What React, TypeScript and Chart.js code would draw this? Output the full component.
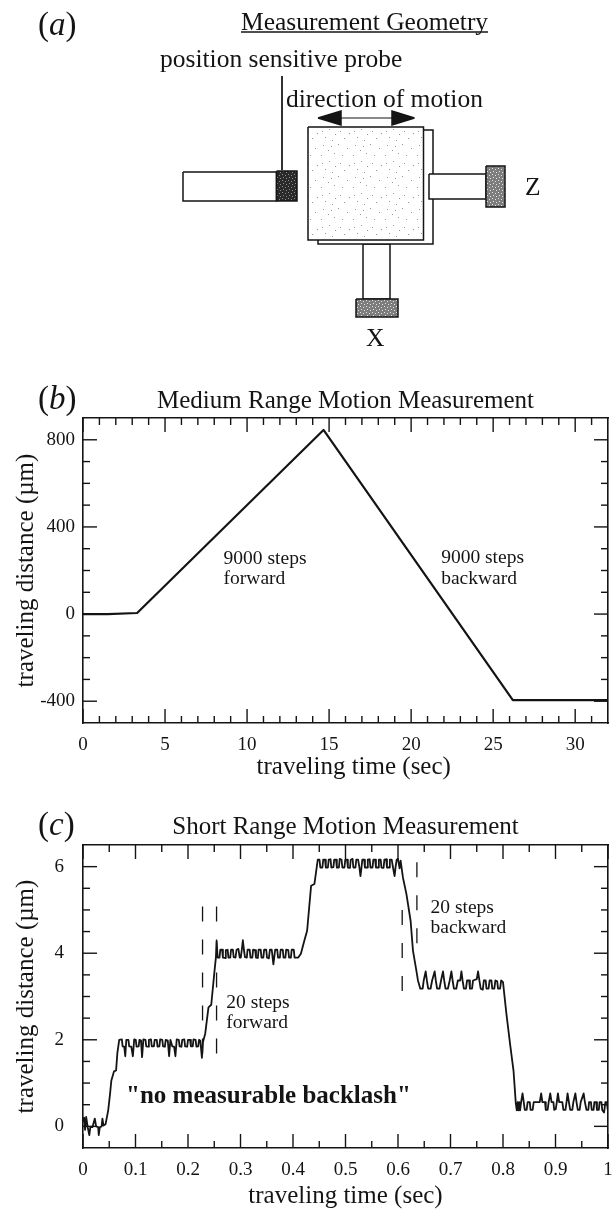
import React, { useEffect, useRef } from "react";
import { Chart, registerables } from "chart.js";

Chart.register(...registerables);

const SERIF = '"Liberation Serif", "Times New Roman", serif';
const INK = "#141414";

// ---------- Panel (b) ----------
const bMajorX = [0, 5, 10, 15, 20, 25, 30];
const bMinorX = [1, 2, 3, 4, 6, 7, 8, 9, 11, 12, 13, 14, 16, 17, 18, 19, 21, 22, 23, 24, 26, 27, 28, 29, 31];
const bMajorY = [-400, 0, 400, 800];
const bMinorY = [-300, -200, -100, 100, 200, 300, 500, 600, 700];
const bTrace = [
  [0, 0], [1.5, 0], [3.3, 5], [14.66, 845], [26.2, -395], [32, -395],
];
const bNotes = [
  { text: "9000 steps", x: 8.57, y: 253 },
  { text: "forward", x: 8.57, y: 161 },
  { text: "9000 steps", x: 21.83, y: 257 },
  { text: "backward", x: 21.83, y: 161 },
];

// ---------- Panel (c) ----------
const cMajorX = [0, 0.1, 0.2, 0.3, 0.4, 0.5, 0.6, 0.7, 0.8, 0.9, 1];
const cMinorX = [0.05, 0.15, 0.25, 0.35, 0.45, 0.55, 0.65, 0.75, 0.85, 0.95];
const cMajorY = [0, 2, 4, 6];
const cMinorY = [1, 3, 5, 0.5, 1.5, 2.5, 3.5, 4.5, 5.5];
const cStart = [
  [0, 0.1], [0.002, 0.2], [0.004, -0.08], [0.006, 0.22], [0.009, -0.02], [0.012, -0.2], [0.014, -0.02], [0.018, -0.02],
  [0.0225, 0.18], [0.025, 0], [0.029, -0.02], [0.03, -0.2], [0.032, -0.02], [0.0355, 0], [0.037, 0.18], [0.039, 0.02],
];
const cRise1 = [[0.043, 0.05], [0.048, 0.37], [0.0515, 0.75], [0.054, 1.06], [0.059, 1.27], [0.063, 1.29], [0.0655, 1.7]];
const cLevel2 = [
  [0.069, 2.0], [0.074, 2.01], [0.0755, 1.85], [0.0785, 1.84], [0.0805, 1.62], [0.0825, 2.0], [0.0865, 2.0], [0.088, 1.85],
  [0.092, 1.84], [0.095, 1.62], [0.0975, 2.01], [0.1005, 2.0], [0.102, 1.84], [0.106, 1.85], [0.1075, 2.0], [0.1105, 1.98],
  [0.1125, 1.6], [0.115, 2.01], [0.119, 2.0], [0.1205, 1.85], [0.124, 1.84], [0.1255, 2.0], [0.1295, 2.01], [0.131, 1.85],
  [0.135, 1.85], [0.1365, 2.0], [0.1405, 2.0], [0.142, 1.84], [0.1455, 1.85], [0.147, 2.01], [0.151, 2.0], [0.1525, 1.85],
  [0.156, 1.84], [0.1575, 2.0], [0.1615, 1.98], [0.164, 1.62], [0.1665, 2.0], [0.17, 1.85], [0.1735, 1.84], [0.176, 1.62],
  [0.1785, 2.01], [0.1825, 2.0], [0.184, 1.85], [0.1875, 1.84], [0.189, 2.0], [0.193, 2.01], [0.1945, 1.85], [0.1985, 1.84],
  [0.2, 2.0], [0.204, 2.0], [0.2055, 1.85], [0.209, 1.85], [0.2105, 2.01], [0.2145, 2.0], [0.216, 1.84], [0.2195, 1.85],
  [0.221, 2.0], [0.2235, 1.98], [0.2265, 1.58], [0.2285, 1.95],
];
const cRise2 = [[0.2328, 2.14], [0.239, 2.75], [0.2443, 2.81], [0.25, 3.53], [0.2532, 3.91], [0.2545, 4.28]];
const cLevel4 = [
  [0.2565, 3.9], [0.26, 3.9], [0.2615, 4.08], [0.265, 4.08], [0.2665, 3.9], [0.2705, 3.89], [0.272, 4.07], [0.2755, 4.08],
  [0.277, 3.9], [0.2805, 3.9], [0.282, 4.08], [0.2855, 4.08], [0.287, 3.91], [0.2905, 3.9], [0.2925, 4.08], [0.296, 4.1],
  [0.2985, 3.9], [0.3005, 3.9], [0.3025, 4.08], [0.3045, 4.3], [0.3065, 4.08], [0.3085, 3.91], [0.312, 3.9], [0.3135, 4.08],
  [0.3175, 4.08], [0.319, 3.9], [0.3225, 3.9], [0.324, 4.08], [0.328, 4.07], [0.3295, 3.9], [0.333, 3.89], [0.3345, 4.08],
  [0.3385, 4.08], [0.34, 3.9], [0.3435, 3.9], [0.345, 4.08], [0.349, 4.08], [0.3505, 3.9], [0.354, 3.88], [0.356, 4.08],
  [0.3595, 4.08], [0.3612, 3.9], [0.3626, 3.74], [0.3642, 3.9], [0.366, 4.08], [0.37, 4.08], [0.3715, 3.9], [0.375, 3.9],
  [0.3765, 4.08], [0.3805, 4.08], [0.382, 3.9], [0.3855, 3.9], [0.387, 4.08], [0.391, 4.07], [0.3925, 3.9], [0.396, 3.9],
  [0.3975, 4.08], [0.4015, 4.08], [0.403, 3.9], [0.41, 3.9],
];
const cRise3 = [[0.415, 3.99], [0.4218, 4.3], [0.4269, 4.52], [0.4345, 5.56], [0.4408, 5.6]];
const cLevel6 = [
  [0.4472, 6.16], [0.4505, 6.16], [0.452, 5.98], [0.456, 5.98], [0.4575, 6.16], [0.461, 6.16], [0.4625, 5.98], [0.4665, 5.98],
  [0.468, 6.16], [0.4715, 6.17], [0.473, 5.98], [0.477, 5.99], [0.4785, 6.16], [0.482, 6.16], [0.4835, 5.98], [0.4875, 5.98],
  [0.489, 6.18], [0.4925, 6.16], [0.494, 5.98], [0.498, 5.98], [0.4995, 6.16], [0.503, 6.16], [0.5045, 5.98], [0.5085, 5.97],
  [0.51, 6.16], [0.5135, 6.18], [0.515, 5.98], [0.519, 5.98], [0.5205, 6.16], [0.524, 6.16], [0.5265, 5.98], [0.5285, 5.78],
  [0.5305, 5.98], [0.532, 6.16], [0.5355, 6.16], [0.537, 5.98], [0.541, 5.98], [0.5425, 6.16], [0.546, 6.17], [0.5475, 5.98],
  [0.5515, 5.98], [0.553, 6.16], [0.5565, 6.16], [0.558, 5.98], [0.562, 5.98], [0.5635, 6.16], [0.567, 6.16], [0.5685, 5.98],
  [0.5725, 5.97], [0.574, 6.16], [0.5775, 6.17], [0.579, 5.98], [0.583, 5.98], [0.5845, 6.16], [0.588, 6.16], [0.5905, 5.98],
  [0.5935, 5.78], [0.5955, 6.0], [0.5975, 6.16], [0.6, 6.18], [0.603, 5.96], [0.605, 6.14],
];
const cFall1 = [[0.6094, 5.75], [0.616, 5.37], [0.624, 4.75], [0.6285, 4.06], [0.635, 3.6], [0.638, 3.37]];
const cLevel3 = [
  [0.6425, 3.18], [0.647, 3.18], [0.649, 3.37], [0.6527, 3.58], [0.655, 3.37], [0.6575, 3.18], [0.662, 3.18], [0.665, 3.37],
  [0.6698, 3.58], [0.672, 3.37], [0.6745, 3.18], [0.679, 3.18], [0.682, 3.37], [0.6857, 3.58], [0.688, 3.37], [0.6905, 3.18],
  [0.695, 3.18], [0.6985, 3.37], [0.7017, 3.58], [0.704, 3.37], [0.7065, 3.18], [0.711, 3.18], [0.714, 3.37], [0.7185, 3.37],
  [0.7208, 3.58], [0.723, 3.37], [0.7255, 3.18], [0.7295, 3.18], [0.7315, 3.37], [0.7355, 3.37], [0.737, 3.18], [0.741, 3.18],
  [0.743, 3.37], [0.75, 3.4], [0.7525, 3.58], [0.755, 3.37], [0.7575, 3.18], [0.7615, 3.16], [0.7635, 3.37], [0.767, 3.37],
  [0.7685, 3.18], [0.7725, 3.18], [0.7745, 3.37], [0.778, 3.37], [0.7795, 3.18], [0.7835, 3.18], [0.7855, 3.37], [0.789, 3.35],
  [0.7905, 3.18], [0.7945, 3.18], [0.7965, 3.37],
];
const cFall2 = [[0.8, 3.33], [0.8065, 2.6], [0.8135, 1.9], [0.82, 1.29], [0.8244, 0.53]];
const cLevel05 = [
  [0.8263, 0.37], [0.828, 0.56], [0.8295, 0.37], [0.831, 0.56], [0.8325, 0.37], [0.8345, 0.56], [0.8372, 0.76], [0.8395, 0.56],
  [0.8415, 0.38], [0.845, 0.38], [0.847, 0.56], [0.851, 0.56], [0.8525, 0.38], [0.8565, 0.38], [0.8585, 0.56], [0.87, 0.56],
  [0.8727, 0.76], [0.875, 0.56], [0.88, 0.56], [0.8815, 0.38], [0.885, 0.38], [0.887, 0.56], [0.89, 0.76], [0.8925, 0.56],
  [0.896, 0.56], [0.8975, 0.38], [0.9005, 0.4], [0.9025, 0.56], [0.9046, 0.76], [0.907, 0.56], [0.913, 0.56], [0.915, 0.38],
  [0.919, 0.38], [0.921, 0.56], [0.923, 0.76], [0.9255, 0.56], [0.928, 0.38], [0.932, 0.38], [0.934, 0.56], [0.9378, 0.76],
  [0.94, 0.56], [0.9425, 0.38], [0.946, 0.38], [0.948, 0.56], [0.9536, 0.76], [0.956, 0.56], [0.959, 0.38], [0.9625, 0.38],
  [0.964, 0.56], [0.9675, 0.56], [0.969, 0.38], [0.9725, 0.38], [0.974, 0.56], [0.9775, 0.56], [0.979, 0.38], [0.9825, 0.38],
  [0.984, 0.56], [0.9875, 0.56], [0.989, 0.38], [0.9925, 0.32], [0.995, 0.56], [0.998, 0.56], [0.9995, 0.38], [1, 0.5],
];
const cGuides = [
  [[0.2277, 5.08], [0.2277, 1.68]],
  [[0.2544, 5.08], [0.2544, 1.68]],
  [[0.608, 5.0], [0.608, 2.98]],
  [[0.636, 6.1], [0.636, 4.22]],
];
const cNotes = [
  { text: "20 steps", x: 0.273, y: 2.86 },
  { text: "forward", x: 0.273, y: 2.4 },
  { text: "20 steps", x: 0.662, y: 5.05 },
  { text: "backward", x: 0.662, y: 4.59 },
];
const cBoldNote = { text: '"no measurable backlash"', x: 0.082, y: 0.7 };

// ---------- Panel (a) schematic, in a 612-wide drawing space ----------
const backPlate = [[318, 130], [433, 130], [433, 244], [318, 244], [318, 130]];
const mainSquare = [[308, 127], [423.5, 127], [423.5, 240], [308, 240], [308, 127]];
const denseRegion = [[322, 150], [412, 150], [412, 200], [322, 200], [322, 150]];
const probeBody = [[183, 172], [276.5, 172], [276.5, 201], [183, 201], [183, 172]];
const probeTip = [[276.5, 171], [297, 171], [297, 201], [276.5, 201], [276.5, 171]];
const zArm = [[429, 174], [486, 174], [486, 199], [429, 199], [429, 174]];
const zTip = [[486, 166], [505, 166], [505, 207], [486, 207], [486, 166]];
const xArm = [[363, 244], [390, 244], [390, 299], [363, 299], [363, 244]];
const xTip = [[356, 299], [398, 299], [398, 317], [356, 317], [356, 299]];
const leader = [[282, 76], [282, 170]];
const shaft = [[341, 118], [392, 118]];
const leftHead = [[318, 118], [341, 111], [341, 125], [318, 118]];
const rightHead = [[414.5, 118], [392, 111], [392, 125], [414.5, 118]];
const titleRule = [[241, 32], [488, 32]];
const schematicLabels = [
  { text: "Measurement Geometry", x: 241, y: 23, size: 25.5 },
  { text: "position sensitive probe", x: 160, y: 60, size: 25.5 },
  { text: "direction of motion", x: 286, y: 100, size: 25.5 },
  { text: "Z", x: 525, y: 188, size: 25.5 },
  { text: "X", x: 366, y: 339, size: 25.5 },
];
const speckleDots = [
  [2, 3], [9, 1], [15, 6], [5, 9], [12, 12], [20, 3], [24, 10], [18, 16], [3, 17], [27, 20],
  [8, 22], [14, 25], [22, 27], [1, 27], [29, 5], [11, 18],
];
const tipDots = [[0, 0], [3, 1], [1, 3], [4, 4]];

const toPoints = (pairs: number[][]) => pairs.map(([x, y]) => ({ x, y }));

const tile = (size: number, bg: string, dot: string, dots: number[][]) => {
  const c = document.createElement("canvas");
  c.width = size;
  c.height = size;
  const g = c.getContext("2d")!;
  if (bg) {
    g.fillStyle = bg;
    g.fillRect(0, 0, size, size);
  }
  g.fillStyle = dot;
  dots.forEach(([x, y]) => g.fillRect(x, y, 1, 1));
  return g.createPattern(c, "repeat")!;
};

const drawPanelLabel = (ctx: CanvasRenderingContext2D, letter: string, x: number, y: number) => {
  ctx.save();
  ctx.fillStyle = INK;
  ctx.textAlign = "left";
  ctx.textBaseline = "middle";
  ctx.font = `33px ${SERIF}`;
  ctx.fillText("(", x, y);
  let cx = x + ctx.measureText("(").width;
  ctx.font = `italic 33px ${SERIF}`;
  ctx.fillText(letter, cx, y);
  cx += ctx.measureText(letter).width;
  ctx.font = `33px ${SERIF}`;
  ctx.fillText(")", cx, y);
  ctx.restore();
};

type PlotSpec = {
  letter: string;
  labelY: number;
  title: string;
  xTitleCentre?: number;
  xMin: number; xMax: number; yMin: number; yMax: number;
  xMajor: number[]; xMinor: number[]; yMajor: number[]; yMinor: number[];
  plot: { top: number; bottom: number; left: number; right: number; width: number; height: number };
  yPad: number; xPad: number;
  xTitlePad: number; yTitlePad: number; topTitlePad: number;
  notes: { text: string; x: number; y: number }[];
  bold?: { text: string; x: number; y: number };
  datasets: any[];
};

const X_TITLE = "traveling time (sec)";

const makePlot = (canvas: HTMLCanvasElement, s: PlotSpec) => {
  const fixed = (values: number[]) => (scale: any) => {
    scale.ticks = values.map((value) => ({ value }));
  };
  const xTicks = [...s.xMajor, ...s.xMinor].sort((a, b) => a - b);
  const yTicks = [...s.yMajor, ...s.yMinor].sort((a, b) => a - b);
  const border = { display: true, color: INK, width: 1.6 };
  const grid = { display: false, drawTicks: false };
  const tickFont = { family: SERIF, size: 19 };
  const titleFont = { family: SERIF, size: 25 };
  const hSize = (h: number) => (scale: any) => {
    scale.height = h;
    scale.paddingLeft = 0;
    scale.paddingRight = 0;
  };
  const vSize = (w: number) => (scale: any) => {
    scale.width = w;
    scale.paddingTop = 0;
    scale.paddingBottom = 0;
  };
  const inwardTicks = {
    id: "inwardTicks",
    afterDatasetsDraw(chart: any) {
      const { ctx, chartArea: a, scales } = chart;
      ctx.save();
      ctx.strokeStyle = INK;
      ctx.lineWidth = 1.4;
      const seg = (x1: number, y1: number, x2: number, y2: number) => {
        ctx.beginPath();
        ctx.moveTo(x1, y1);
        ctx.lineTo(x2, y2);
        ctx.stroke();
      };
      xTicks.forEach((v) => {
        const len = s.xMajor.includes(v) ? 14 : 7;
        const px = scales.x.getPixelForValue(v);
        seg(px, a.bottom, px, a.bottom - len);
        seg(px, a.top, px, a.top + len);
      });
      yTicks.forEach((v) => {
        const len = s.yMajor.includes(v) ? 14 : 7;
        const py = scales.y.getPixelForValue(v);
        seg(a.left, py, a.left + len, py);
        seg(a.right, py, a.right - len, py);
      });
      ctx.restore();
    },
    afterDraw(chart: any) {
      const { ctx, scales, chartArea } = chart;
      drawPanelLabel(ctx, s.letter, 38, s.labelY);
      ctx.save();
      ctx.fillStyle = INK;
      ctx.textAlign = "left";
      ctx.textBaseline = "middle";
      ctx.font = `19.5px ${SERIF}`;
      s.notes.forEach((n) => ctx.fillText(n.text, scales.x.getPixelForValue(n.x), scales.y.getPixelForValue(n.y)));
      if (s.bold) {
        ctx.font = `bold 25px ${SERIF}`;
        ctx.fillText(s.bold.text, scales.x.getPixelForValue(s.bold.x), scales.y.getPixelForValue(s.bold.y));
      }
      if (s.xTitleCentre !== undefined) {
        ctx.font = `25px ${SERIF}`;
        ctx.textAlign = "center";
        ctx.fillText(X_TITLE, scales.x.getPixelForValue(s.xTitleCentre), chartArea.bottom + 44);
      }
      ctx.restore();
    },
  };
  return new Chart(canvas, {
    type: "line",
    data: { datasets: s.datasets },
    plugins: [inwardTicks],
    options: {
      animation: false,
      responsive: false,
      layout: { padding: 0 },
      plugins: { legend: { display: false }, tooltip: { enabled: false }, title: { display: false } },
      scales: {
        x: {
          type: "linear", position: "bottom", min: s.xMin, max: s.xMax,
          grid, border,
          afterBuildTicks: fixed(xTicks),
          afterFit: hSize(s.plot.height - s.plot.bottom),
          ticks: {
            autoSkip: false, maxRotation: 0, minRotation: 0, padding: s.xPad, color: INK, font: tickFont,
            callback: (v: any) => (s.xMajor.includes(v) ? String(v) : ""),
          },
          title: {
            display: s.xTitleCentre === undefined, text: X_TITLE, color: INK, font: titleFont,
            padding: { top: 0, bottom: s.xTitlePad },
          },
        },
        x2: {
          type: "linear", position: "top", min: s.xMin, max: s.xMax,
          grid, border,
          afterBuildTicks: fixed(xTicks),
          afterFit: hSize(s.plot.top),
          ticks: { display: false, autoSkip: false },
          title: { display: true, text: s.title, color: INK, font: titleFont, padding: { top: s.topTitlePad, bottom: 0 } },
        },
        y: {
          type: "linear", position: "left", min: s.yMin, max: s.yMax,
          grid, border,
          afterBuildTicks: fixed(yTicks),
          afterFit: vSize(s.plot.left),
          ticks: {
            autoSkip: false, padding: s.yPad, color: INK, font: tickFont,
            callback: (v: any) => (s.yMajor.includes(v) ? String(v) : ""),
          },
          title: { display: true, text: "traveling distance (µm)", color: INK, font: titleFont, padding: { top: s.yTitlePad, bottom: 0 } },
        },
        y2: {
          type: "linear", position: "right", min: s.yMin, max: s.yMax,
          grid, border,
          afterBuildTicks: fixed(yTicks),
          afterFit: vSize(s.plot.width - s.plot.right),
          ticks: { display: false, autoSkip: false },
        },
      },
    } as any,
  });
};

const traceStyle = {
  borderColor: INK, pointRadius: 0, tension: 0, fill: false, xAxisID: "x", yAxisID: "y", borderJoinStyle: "round",
};

export default function App() {
  const aRef = useRef<HTMLCanvasElement>(null);
  const bRef = useRef<HTMLCanvasElement>(null);
  const cRef = useRef<HTMLCanvasElement>(null);

  useEffect(() => {
    const speckle = tile(32, "#ffffff", "#999999", speckleDots);
    const dark = tile(6, "#2a2a2a", "#8f8f8f", tipDots);
    const medium = tile(6, "#7d7d7d", "#e6e6e6", tipDots);
    const outlined = (pts: number[][], bg: any) => ({
      data: toPoints(pts), borderColor: INK, borderWidth: 1.5, backgroundColor: bg,
      fill: "shape", pointRadius: 0, tension: 0,
    });
    const stroke = (pts: number[][], width: number) => ({
      data: toPoints(pts), borderColor: INK, borderWidth: width, fill: false, pointRadius: 0, tension: 0,
    });
    const a = new Chart(aRef.current!, {
      type: "line",
      data: {
        datasets: [
          outlined(rightHead, INK),
          outlined(leftHead, INK),
          stroke(shaft, 1.2),
          stroke(leader, 1),
          stroke(titleRule, 1.4),
          { ...outlined(denseRegion, speckle), borderWidth: 0, borderColor: "transparent" },
          outlined(mainSquare, speckle),
          outlined(zTip, medium),
          outlined(zArm, "#ffffff"),
          outlined(backPlate, "#ffffff"),
          outlined(probeTip, dark),
          outlined(probeBody, "#ffffff"),
          outlined(xTip, medium),
          outlined(xArm, "#ffffff"),
        ],
      },
      plugins: [
        {
          id: "schematicLabels",
          afterDraw(chart: any) {
            const { ctx, scales } = chart;
            drawPanelLabel(ctx, "a", 38, 26);
            ctx.save();
            ctx.fillStyle = INK;
            ctx.textAlign = "left";
            ctx.textBaseline = "middle";
            schematicLabels.forEach((l) => {
              ctx.font = `${l.size}px ${SERIF}`;
              ctx.fillText(l.text, scales.x.getPixelForValue(l.x), scales.y.getPixelForValue(l.y));
            });
            ctx.restore();
          },
        },
      ],
      options: {
        animation: false,
        responsive: false,
        layout: { padding: 0 },
        plugins: { legend: { display: false }, tooltip: { enabled: false } },
        scales: {
          x: { type: "linear", display: false, min: 0, max: 612 },
          y: { type: "linear", display: false, min: 0, max: 365, reverse: true },
        },
      },
    } as any);

    const b = makePlot(bRef.current!, {
      letter: "b",
      labelY: 22,
      title: "Medium Range Motion Measurement",
      xTitleCentre: 16.5,
      xMin: 0, xMax: 32, yMin: -500, yMax: 900,
      xMajor: bMajorX, xMinor: bMinorX, yMajor: bMajorY, yMinor: bMinorY,
      plot: { top: 40, bottom: 345, left: 83, right: 608, width: 612, height: 412 },
      yPad: 8, xPad: 11, xTitlePad: 7, yTitlePad: 11, topTitlePad: 8,
      notes: bNotes,
      datasets: [{ ...traceStyle, borderWidth: 2.2, data: toPoints(bTrace) }],
    });

    const c = makePlot(cRef.current!, {
      letter: "c",
      labelY: 26,
      title: "Short Range Motion Measurement",
      xMin: 0, xMax: 1, yMin: -0.5, yMax: 6.5,
      xMajor: cMajorX, xMinor: cMinorX, yMajor: cMajorY, yMinor: cMinorY,
      plot: { top: 45, bottom: 348, left: 83, right: 608, width: 612, height: 413 },
      yPad: 19, xPad: 11, xTitlePad: 2, yTitlePad: 11, topTitlePad: 12,
      notes: cNotes,
      bold: cBoldNote,
      datasets: [
        {
          ...traceStyle, borderWidth: 1.8,
          data: toPoints([
            ...cStart, ...cRise1, ...cLevel2, ...cRise2, ...cLevel4, ...cRise3,
            ...cLevel6, ...cFall1, ...cLevel3, ...cFall2, ...cLevel05,
          ]),
        },
        ...cGuides.map((g) => ({ ...traceStyle, borderWidth: 1.3, borderDash: [15, 18], data: toPoints(g) })),
      ],
    });

    return () => {
      a.destroy();
      b.destroy();
      c.destroy();
    };
  }, []);

  const place = (top: number): React.CSSProperties => ({ position: "absolute", left: 0, top, display: "block" });
  return (
    <div style={{ position: "absolute", left: 0, top: 0, width: 612, height: 1209, background: "#fff", overflow: "hidden" }}>
      <canvas ref={aRef} width={612} height={365} style={place(0)} />
      <canvas ref={bRef} width={612} height={412} style={place(378)} />
      <canvas ref={cRef} width={612} height={413} style={place(800)} />
    </div>
  );
}
